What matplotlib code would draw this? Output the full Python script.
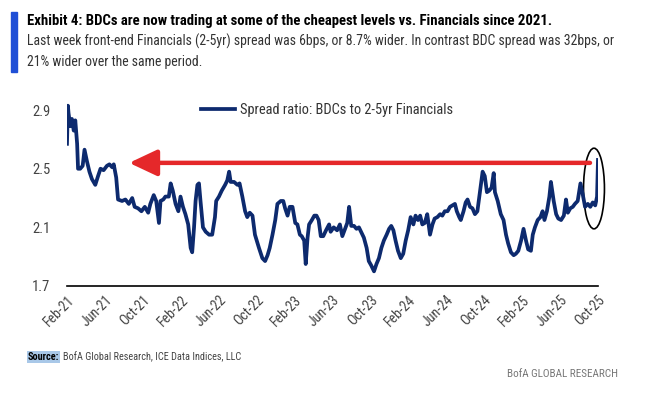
import pandas as pd
import numpy as np
import matplotlib
matplotlib.use('Agg')
import matplotlib.pyplot as plt
import matplotlib.dates as mdates
from matplotlib.patches import Ellipse, Rectangle

# weekly-ish readings of the spread ratio, days counted from 1 Feb 2021
start = pd.Timestamp('2021-02-01')
end = pd.Timestamp('2025-10-24')
day_offset = [
    0, 3, 5, 11, 16, 22, 27, 33, 36, 43,
    51, 57, 65, 73, 81, 92, 101, 109, 119, 130,
    138, 147, 152, 160, 166, 179, 190, 201, 212, 220,
    231, 242, 253, 264, 271, 282, 290, 299, 304, 313,
    320, 331, 337, 344, 353, 362, 369, 377, 385, 394,
    402, 407, 413, 418, 424, 429, 434, 442, 451, 462,
    472, 481, 485, 494, 503, 514, 521, 527, 532, 543,
    554, 561, 570, 579, 586, 594, 603, 611, 624, 635,
    644, 652, 659, 668, 677, 684, 695, 703, 709, 717,
    724, 733, 742, 749, 757, 763, 771, 776, 782, 787,
    796, 804, 811, 818, 825, 833, 842, 852, 857, 867,
    878, 887, 895, 902, 911, 917, 924, 933, 941, 949,
    956, 965, 974, 981, 989, 998, 1006, 1014, 1022, 1030,
    1039, 1047, 1054, 1061, 1068, 1076, 1085, 1093, 1101, 1109,
    1117, 1126, 1133, 1141, 1148, 1155, 1163, 1171, 1180, 1188,
    1195, 1204, 1213, 1220, 1228, 1237, 1245, 1253, 1261, 1267,
    1275, 1280, 1289, 1296, 1302, 1310, 1318, 1326, 1334, 1343,
    1351, 1358, 1365, 1372, 1380, 1387, 1391, 1400, 1410, 1419,
    1427, 1434, 1443, 1452, 1459, 1467, 1476, 1484, 1492, 1499,
    1508, 1514, 1521, 1530, 1539, 1546, 1552, 1560, 1568, 1573,
    1582, 1590, 1597, 1606, 1615, 1622, 1628, 1636, 1644, 1651,
    1660, 1669, 1676, 1684, 1693, 1701, 1709, 1717, 1723, 1726,
]
spread_ratio = [
    2.67, 2.93, 2.88, 2.79, 2.84, 2.76, 2.83, 2.67, 2.50, 2.50,
    2.52, 2.63, 2.55, 2.48, 2.43, 2.39, 2.45, 2.50, 2.49, 2.52,
    2.53, 2.51, 2.53, 2.44, 2.29, 2.28, 2.29, 2.26, 2.30, 2.24,
    2.23, 2.21, 2.24, 2.20, 2.26, 2.32, 2.28, 2.13, 2.28, 2.29,
    2.31, 2.31, 2.40, 2.35, 2.26, 2.21, 2.31, 2.24, 2.19, 2.12,
    1.96, 1.93, 2.10, 2.28, 2.39, 2.40, 2.28, 2.10, 2.07, 2.05,
    2.05, 2.17, 2.28, 2.31, 2.35, 2.39, 2.42, 2.48, 2.41, 2.41,
    2.39, 2.40, 2.31, 2.21, 2.17, 2.20, 2.18, 2.05, 1.96, 1.89,
    1.87, 1.91, 1.96, 2.05, 2.15, 2.26, 2.28, 2.28, 2.23, 2.18,
    2.24, 2.24, 2.13, 2.12, 2.05, 2.04, 2.01, 1.85, 2.03, 2.12,
    2.15, 2.18, 2.18, 2.15, 2.04, 2.04, 2.08, 2.12, 2.07, 2.10,
    2.08, 2.12, 2.04, 2.08, 2.13, 2.24, 2.11, 2.11, 2.09, 2.10,
    2.07, 2.03, 1.96, 1.87, 1.84, 1.80, 1.85, 1.89, 1.96, 2.01,
    2.05, 2.09, 2.11, 2.08, 2.01, 1.94, 1.89, 1.92, 2.01, 2.08,
    2.17, 2.12, 2.18, 2.15, 2.18, 2.12, 2.13, 2.19, 2.05, 2.12,
    2.16, 2.17, 2.19, 2.18, 2.21, 2.21, 2.24, 2.25, 2.26, 2.21,
    2.17, 2.15, 2.21, 2.27, 2.29, 2.24, 2.23, 2.19, 2.21, 2.35,
    2.48, 2.45, 2.34, 2.35, 2.37, 2.47, 2.34, 2.28, 2.19, 2.15,
    2.05, 1.99, 1.93, 1.91, 1.92, 1.94, 2.01, 2.09, 2.01, 1.95,
    1.94, 2.05, 2.10, 2.15, 2.17, 2.21, 2.15, 2.21, 2.31, 2.41,
    2.28, 2.19, 2.16, 2.15, 2.18, 2.29, 2.20, 2.23, 2.24, 2.26,
    2.28, 2.40, 2.33, 2.24, 2.26, 2.24, 2.27, 2.25, 2.31, 2.56,
]
yticks = [1.7, 2.1, 2.5, 2.9]
arrow_level = 2.54
arrow_from, arrow_to = 1700, 202   # days
circle_day, circle_mid = 1713, 2.365

dates = start + pd.to_timedelta(day_offset, unit='D')

plt.rcParams['font.family'] = ['Roboto Condensed', 'Liberation Sans Narrow', 'Roboto', 'DejaVu Sans']
navy = '#0d2a6e'
red = '#e5282a'

fig = plt.figure(figsize=(6.49, 3.97), dpi=100)
ax = fig.add_axes([0.1032, 0.2796, 0.8182, 0.480])
ax.plot(dates, spread_ratio, color=navy, lw=2.7, solid_joinstyle='round',
        label='Spread ratio: BDCs to 2-5yr Financials')

ax.set_ylim(1.7, 3.0)
ax.set_yticks(yticks)
ax.set_yticklabels([f'{v:.1f}' for v in yticks])
ax.set_xlim(start, end)
ticks = pd.date_range(start, end, periods=15)
ax.set_xticks(ticks)
ax.set_xticklabels([t.strftime('%b-%y') for t in ticks], rotation=45,
                   ha='right', rotation_mode='anchor')
ax.tick_params(axis='y', length=0, pad=12, labelsize=10.5, labelcolor='#444444')
ax.tick_params(axis='x', length=0, pad=5, labelsize=10, labelcolor='#444444')
for s in ['top', 'right', 'left']:
    ax.spines[s].set_visible(False)
ax.spines['bottom'].set_color('black')
ax.spines['bottom'].set_linewidth(1.2)

# red arrow back to 2021 levels
ax.annotate('', xy=(start + pd.Timedelta(days=arrow_to), arrow_level),
            xytext=(start + pd.Timedelta(days=arrow_from), arrow_level),
            arrowprops=dict(arrowstyle='-|>,head_length=1.7,head_width=0.8',
                            color=red, lw=3.2, shrinkA=0, shrinkB=0))
ax.add_patch(Ellipse((mdates.date2num(start + pd.Timedelta(days=circle_day)), circle_mid),
                     width=68, height=0.55, fill=False, edgecolor='black', lw=1.2,
                     clip_on=False))

ax.legend(loc='center left', bbox_to_anchor=(0.309, 0.723), bbox_transform=fig.transFigure,
          frameon=False, borderpad=0, borderaxespad=0, handlelength=2.4,
          handletextpad=0.3, fontsize=10.4, labelcolor='#333333')

# header
fig.patches.append(Rectangle((0.017, 0.818), 0.009, 0.153, transform=fig.transFigure,
                             color='#1f4fd6', figure=fig))
fig.text(0.041, 0.947, 'Exhibit 4: BDCs are now trading at some of the cheapest levels vs. Financials since 2021.',
         fontsize=10.6, fontweight='bold', va='center', color='black')
fig.text(0.041, 0.895, 'Last week front-end Financials (2-5yr) spread was 6bps, or 8.7% wider. '
         'In contrast BDC spread was 32bps, or', fontsize=9.9, va='center', color='#333333')
fig.text(0.041, 0.843, '21% wider over the same period.', fontsize=9.9, va='center', color='#333333')

# footer
src = fig.text(0.043, 0.100, 'Source:', fontsize=7.4, fontweight='bold', va='center',
               bbox=dict(facecolor='#a9c8e8', edgecolor='none', pad=0.8))
ax.annotate('BofA Global Research, ICE Data Indices, LLC', xy=(1, 0.5), xycoords=src,
            xytext=(3, 0), textcoords='offset points', fontsize=7.4, va='center',
            color='#444444', annotation_clip=False)
fig.text(0.953, 0.058, 'BofA GLOBAL RESEARCH', fontsize=8, ha='right', va='center',
         color='#777777')

fig.savefig('out.png', dpi=100)
